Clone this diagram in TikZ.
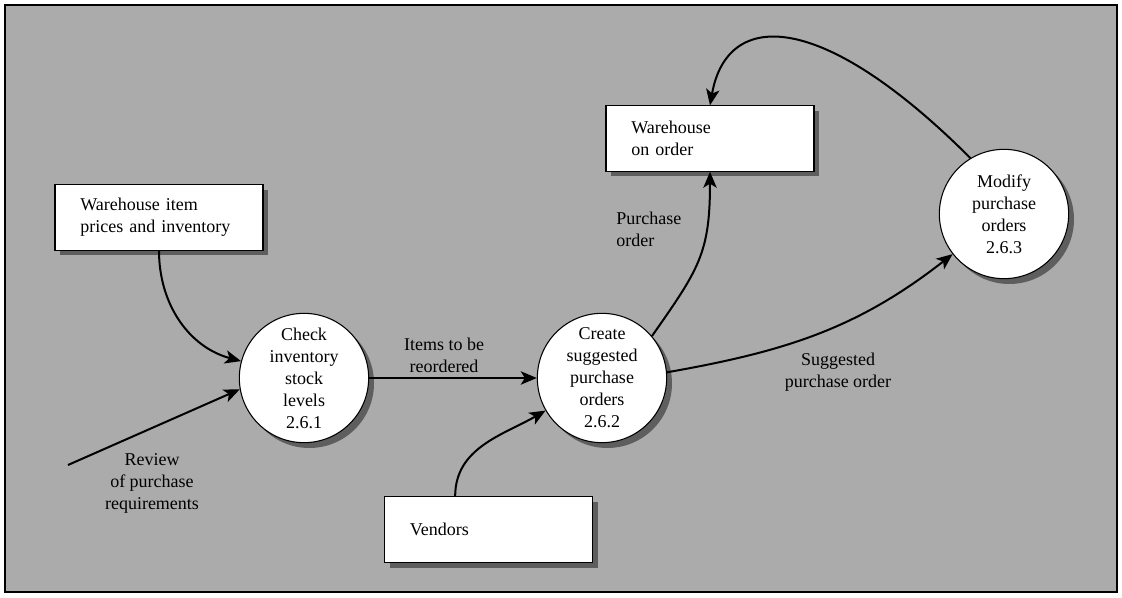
\documentclass[tikz,border=0pt]{standalone}
\usepackage{xcolor}
\usepackage{fontspec}
\setmainfont{Liberation Serif}
\usepackage{tikz}
\usetikzlibrary{calc,arrows.meta,positioning,shadows}
\definecolor{paper}{HTML}{ABABAB}
\definecolor{shade}{HTML}{5E5E5E}

\begin{document}
\begin{tikzpicture}[x=0.75pt, y=0.75pt,
  txt/.style={font=\fontsize{13.5}{16.5}\selectfont},
  shadowed/.style={drop shadow={shadow xshift=4pt, shadow yshift=-4pt, fill=shade, opacity=1}},
  store/.style={txt, draw, fill=white, line width=0.8pt, text width=118pt,
    inner xsep=19pt, minimum height=49pt, align=left, shadowed},
  proc/.style={txt, circle, draw, fill=white, line width=0.8pt, minimum size=97pt,
    inner sep=0pt, align=center, shadowed},
  flow/.style={line width=1.5pt, -{Stealth[length=12pt, width=10pt, inset=3pt]}},
  lbl/.style={txt, align=center, inner sep=0pt}]
  \useasboundingbox (0,0) rectangle (1122,597);
  \fill[white] (0,0) rectangle (1122,597);
  \draw[fill=paper, line width=1.1pt] (5,5) rectangle (1117,592);

  \node[store] (wip) at (159,379.5) {Warehouse item\\prices and inventory};
  \node[store] (onorder) at (710,458.5) {Warehouse\\on order};
  \node[store] (vendors) at (488.5,67.5) {Vendors};

  \node[proc] (check) at (304,219) {Check\\inventory\\stock\\levels\\2.6.1};
  \node[proc] (create) at (602,219) {Create\\suggested\\purchase\\orders\\2.6.2};
  \node[proc] (modify) at (1004,383) {Modify\\purchase\\orders\\2.6.3};

  \coordinate (rev) at (68,132);
  \draw[flow] (wip.south) to[out=-90, in=165] (check);
  \draw[flow] (rev) -- (check.190);
  \draw[flow] (check) -- (create);
  \draw[flow] ([xshift=-25pt]vendors.north) to[out=90, in=210] (create);
  \draw[flow] (create.40) to[out=55, in=-90, looseness=1.2] (onorder.south);
  \draw[flow] (create.5) to[out=10, in=218] (modify);
  \draw[flow] (modify.121) .. controls +(135:209) and +(80:99) .. (onorder.north);

  \node[lbl] (revlab) at (152,114) {Review\\of purchase\\requirements};
  \node[lbl] (itemslab) at (444,242) {Items to be\\reordered};
  \node[lbl, anchor=west, align=left] (polab) at (616,368) {Purchase\\order};
  \node[lbl] (suglab) at (838,225) {Suggested\\purchase order};
\end{tikzpicture}
\end{document}
